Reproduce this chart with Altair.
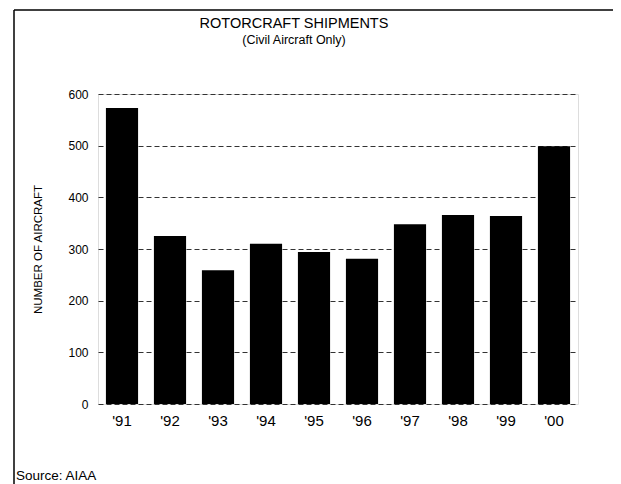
import altair as alt
import pandas as pd

years = ["'91", "'92", "'93", "'94", "'95", "'96", "'97", "'98", "'99", "'00"]
shipments = [573, 325, 259, 310, 294, 281, 348, 366, 364, 499]
y_ticks = [0, 100, 200, 300, 400, 500, 600]

TITLE = "ROTORCRAFT SHIPMENTS"
SUBTITLE = "(Civil Aircraft Only)"
SOURCE = "Source: AIAA"
Y_TITLE = "NUMBER OF AIRCRAFT"
FONT = "Liberation Sans"

df = pd.DataFrame({"year": years, "value": shipments})

bars = alt.Chart(df).mark_bar(color="black").encode(
    x=alt.X("year:N", sort=years, title=None,
            scale=alt.Scale(paddingInner=0.33, paddingOuter=0.165),
            axis=alt.Axis(labelAngle=0, labelFontSize=15, labelPadding=9,
                          ticks=False, domain=False, labelColor="black",
                          labelFont=FONT)),
    y=alt.Y("value:Q", title=Y_TITLE,
            scale=alt.Scale(domain=[0, 600], nice=False),
            axis=alt.Axis(values=y_ticks, ticks=False, domain=False,
                          labelFontSize=12, labelPadding=10, labelColor="black",
                          labelFont=FONT,
                          grid=True, gridDash=[5, 3], gridColor="#333333",
                          gridWidth=1,
                          titleFont=FONT, titleFontSize=11.5,
                          titleFontWeight="normal", titleColor="black",
                          titleX=-60, titleY=155, titleAngle=-90,
                          titleAlign="center", titleBaseline="middle")),
)

one = pd.DataFrame({"a": [0]})

def txt(s, x, y, size, align="center"):
    return alt.Chart(pd.DataFrame({"t": [s]})).mark_text(
        font=FONT, fontSize=size, align=align, baseline="alphabetic",
        color="black").encode(text="t:N", x=alt.value(x), y=alt.value(y))

title = txt(TITLE, 196, -66, 14.5)
subtitle = txt(SUBTITLE, 196, -50, 12.5)
source = txt(SOURCE, -82, 386, 13.5, align="left")

frame_top = alt.Chart(one).mark_rule(color="black", strokeWidth=1.5).encode(
    x=alt.value(-84), x2=alt.value(540), y=alt.value(-84))
frame_left = alt.Chart(one).mark_rule(color="black", strokeWidth=1.5).encode(
    x=alt.value(-84), y=alt.value(-84), y2=alt.value(400))

chart = alt.layer(bars, title, subtitle, source, frame_top, frame_left).properties(
    width=480, height=310,
    autosize=alt.AutoSizeParams(type="none"),
    padding={"left": 90, "top": 86, "right": 35, "bottom": 90},
).configure_view(
    stroke="#555555", strokeDash=[1, 1], strokeWidth=1
).configure(background="white")

chart.save("out.html", embed_options={"renderer": "svg", "actions": False})
